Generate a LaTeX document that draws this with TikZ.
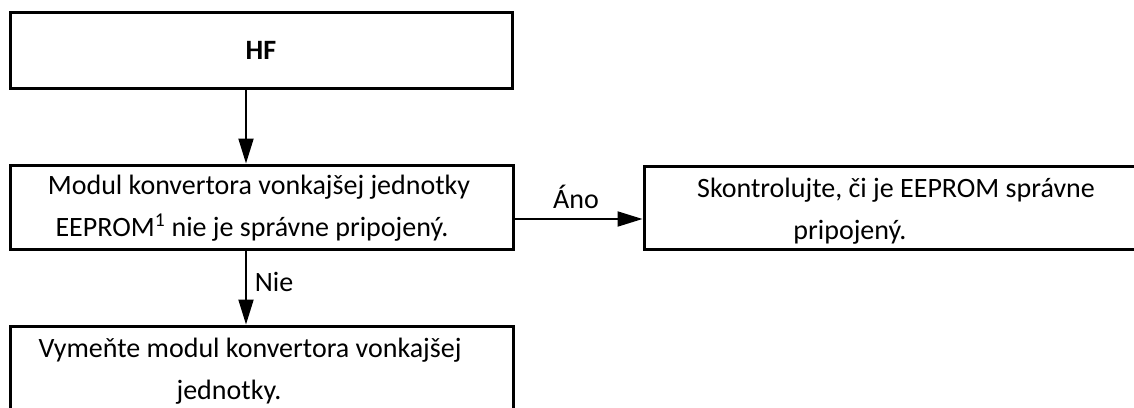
\documentclass[tikz,border=0pt]{standalone}
\usepackage{fontspec}
\setmainfont{Carlito}
\usetikzlibrary{arrows.meta}
\begin{document}
\begin{tikzpicture}[x=1pt,y=-1pt,
  box/.style={draw=black, line width=3pt, rectangle, inner sep=0pt, fill=none},
  txt/.style={anchor=base, inner sep=0pt, font=\fontsize{28pt}{42pt}\selectfont},
  arr/.style={draw=black, line width=2pt, -{Triangle[width=15pt,length=25pt]}}]
\useasboundingbox (0,0) rectangle (1134,407);
\node[box, minimum width=502pt, minimum height=76pt, font=\fontsize{28pt}{42pt}\selectfont\bfseries] (hf) at (261,50) {HF};
\node[box, minimum width=503pt, minimum height=84pt] (mod) at (261.5,207) {};
\node[box, minimum width=506pt, minimum height=83pt] (chk) at (897,207.5) {};
\node[box, minimum width=503pt, minimum height=124pt] (rep) at (261.5,388) {};
% texts
\node[txt] (m1) at (259,194) {Modul konvertora vonkajšej jednotky};
\node[txt] (m2) at (252,236) {EEPROM\textsuperscript{1} nie je správne pripojený.};
\node[txt] (k1) at (896,197) {Skontrolujte, či je EEPROM správne};
\node[txt] (k2) at (850,239) {pripojený.};
\node[txt] (r1) at (250,357) {Vymeňte modul konvertora vonkajšej};
\node[txt] (r2) at (229,399) {jednotky.};
% connectors
\coordinate (c1) at (246,0);
\coordinate (c2) at (0,219);
\draw[arr] (c1 |- hf.south) -- (c1 |- mod.north);
\draw[arr] (mod.east |- c2) -- (chk.west |- c2);
\draw[arr] (c1 |- mod.south) -- (c1 |- rep.north);
\node[txt] (ano) at (576,208) {Áno};
\node[txt] (nie) at (274,291) {Nie};
\end{tikzpicture}
\end{document}
